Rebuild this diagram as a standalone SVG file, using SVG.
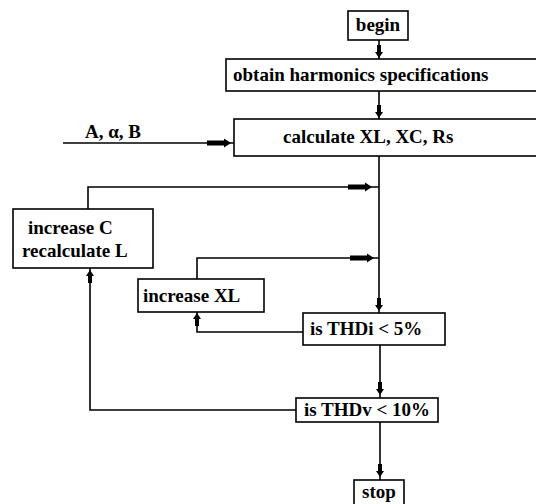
<svg xmlns="http://www.w3.org/2000/svg" width="536" height="504" viewBox="0 0 536 504">
<defs>
<style>
.box{fill:#fff;stroke:#000;stroke-width:1.6}
.ln{fill:none;stroke:#000;stroke-width:1.6}
.t{font-family:"Liberation Serif","DejaVu Serif","Times New Roman",serif;font-size:19px;font-weight:bold;fill:#000}
.ah{fill:#000}
</style>
<path id="ad" d="M-2,-13 H2 V-6 H4 L0,0 L-4,-6 H-2 Z"/>
<path id="ar" d="M-24,-2.5 H-7 V-4.5 L0,0 L-7,4.5 V2.5 H-24 Z"/>
</defs>
<rect width="536" height="504" fill="#fff"/>
<g id="connectors">
<path class="ln" d="M379,40 V59"/>
<use href="#ad" class="ah" transform="translate(379,58)"/>
<path class="ln" d="M379,91 V119"/>
<use href="#ad" class="ah" transform="translate(379,118)"/>
<path class="ln" d="M63,143 H234"/>
<use href="#ar" class="ah" transform="translate(231,143)"/>
<path class="ln" d="M379,156 V313"/>
<use href="#ad" class="ah" transform="translate(379,311)"/>
<path class="ln" d="M88,209 V187 H379"/>
<use href="#ar" class="ah" transform="translate(372,187)"/>
<path class="ln" d="M197,279 V258 H379"/>
<use href="#ar" class="ah" transform="translate(374,258)"/>
<path class="ln" d="M303,332 H197 V312"/>
<use href="#ad" class="ah" transform="translate(197,313) rotate(180)"/>
<path class="ln" d="M380,345 V398"/>
<use href="#ad" class="ah" transform="translate(380,395)"/>
<path class="ln" d="M296,410 H90 V268"/>
<use href="#ad" class="ah" transform="translate(90,270) rotate(180)"/>
<path class="ln" d="M380,422 V480"/>
<use href="#ad" class="ah" transform="translate(380,477)"/>
</g>
<text class="t" x="85" y="138">A, α, B</text>
<g id="begin">
<rect class="box" x="348" y="11" width="60" height="29"/>
<text class="t" x="378" y="31" text-anchor="middle">begin</text>
</g>
<g id="obtain">
<rect class="box" x="226" y="59" width="320" height="32"/>
<text class="t" x="233" y="81">obtain harmonics specifications</text>
</g>
<g id="calculate">
<rect class="box" x="234" y="119" width="320" height="37"/>
<text class="t" x="283" y="143">calculate XL, XC, Rs</text>
</g>
<g id="increaseC">
<rect class="box" x="13" y="209" width="140" height="59"/>
<text class="t" x="28" y="234">increase C</text>
<text class="t" x="22" y="257">recalculate L</text>
</g>
<g id="increaseXL">
<rect class="box" x="138" y="279" width="126" height="33"/>
<text class="t" x="143" y="302">increase XL</text>
</g>
<g id="thdi">
<rect class="box" x="303" y="313" width="142" height="32"/>
<text class="t" x="310" y="335">is THDi &lt; 5%</text>
</g>
<g id="thdv">
<rect class="box" x="296" y="398" width="142" height="24"/>
<text class="t" x="367" y="416" text-anchor="middle">is THDv &lt; 10%</text>
</g>
<g id="stop">
<rect class="box" x="354" y="480" width="50" height="30"/>
<text class="t" x="379" y="498" text-anchor="middle">stop</text>
</g>
</svg>
